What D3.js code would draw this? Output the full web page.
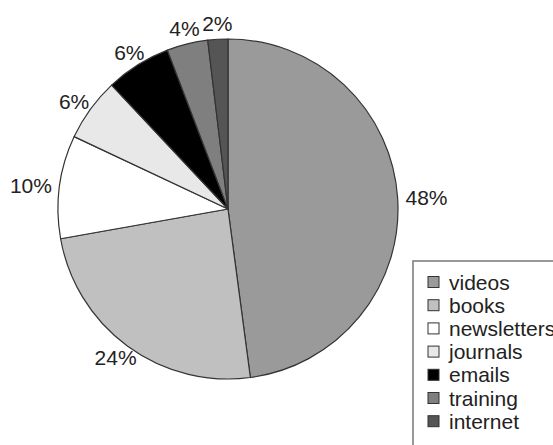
<!DOCTYPE html>
<html>
<head>
<meta charset="utf-8">
<script src="https://cdn.jsdelivr.net/npm/d3@7"></script>
<style>
  body { margin: 0; background: #fff; }
  svg { display: block; }
  text { font-family: "Liberation Sans", Arial, Helvetica, sans-serif; fill: #222; }
</style>
</head>
<body>
<div id="chart"></div>
<script>
// slices clockwise from 12 o'clock
const categories = ["videos", "books", "newsletters", "journals", "emails", "training", "internet"];
const values = [47.9, 24.3, 9.8, 6.0, 6.2, 3.9, 1.9];
const labels = ["48%", "24%", "10%", "6%", "6%", "4%", "2%"];
const colors = ["#9a9a9a", "#c0c0c0", "#ffffff", "#e8e8e8", "#000000", "#7f7f7f", "#555555"];

const width = 553;
const height = 445;
const cx = 228, cy = 209, radius = 170;
const labelR = 178;

const data = categories.map((c, i) => ({ name: c, value: values[i], label: labels[i], color: colors[i] }));

const svg = d3.select("#chart")
  .append("svg")
  .attr("width", width)
  .attr("height", height);

const pie = d3.pie()
  .sort(null)
  .value(d => d.value);

const arc = d3.arc()
  .innerRadius(0)
  .outerRadius(radius);

const arcs = pie(data);

const g = svg.append("g")
  .attr("transform", `translate(${cx},${cy})`);

g.selectAll("path")
  .data(arcs)
  .enter()
  .append("path")
  .attr("d", arc)
  .attr("fill", d => d.data.color)
  .attr("stroke", "#333")
  .attr("stroke-width", 1.2)
  .attr("stroke-linejoin", "round");

// percentage labels just outside the rim
g.selectAll("text.pct")
  .data(arcs)
  .enter()
  .append("text")
  .attr("class", "pct")
  .attr("font-size", 21)
  .attr("text-anchor", "middle")
  .attr("dominant-baseline", "central")
  .text(d => d.data.label)
  .each(function(d) {
    const a = (d.startAngle + d.endAngle) / 2;
    const w = this.getComputedTextLength();
    const h = 16;
    const s = Math.sin(a), c = Math.cos(a);
    const x = (labelR + w / 2 * Math.abs(s)) * s;
    const y = -(labelR + h / 2 * Math.abs(c)) * c;
    d3.select(this).attr("x", x).attr("y", y);
  });

// legend, running off the bottom right edge as in the original
const lx = 413, ly = 261, rowH = 23.2;

svg.append("rect")
  .attr("x", lx)
  .attr("y", ly)
  .attr("width", 200)
  .attr("height", 220)
  .attr("fill", "#fff")
  .attr("stroke", "#777")
  .attr("stroke-width", 1.5);

const item = svg.selectAll("g.item")
  .data(data)
  .enter()
  .append("g")
  .attr("class", "item")
  .attr("transform", (d, i) => `translate(${lx + 15},${ly + 21 + i * rowH})`);

item.append("rect")
  .attr("x", 0)
  .attr("y", -5.5)
  .attr("width", 11)
  .attr("height", 11)
  .attr("fill", d => d.color)
  .attr("stroke", "#333")
  .attr("stroke-width", 1);

item.append("text")
  .attr("x", 21)
  .attr("y", 0)
  .attr("font-size", 21)
  .attr("dominant-baseline", "central")
  .text(d => d.name);
</script>
</body>
</html>
